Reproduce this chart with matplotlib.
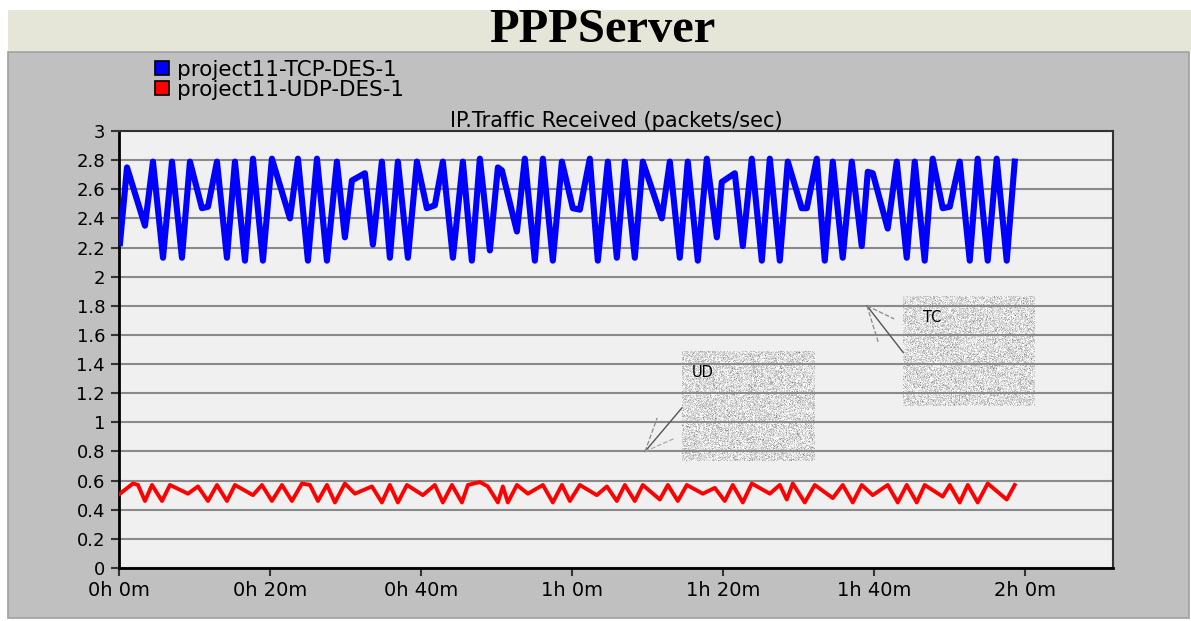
import numpy as np
import matplotlib
matplotlib.use("Agg")
import matplotlib.pyplot as plt
from matplotlib.patches import Rectangle
from matplotlib.lines import Line2D

# ---------------- data (time in minutes) ----------------
tcp_time = [0.13, 1.06, 3.44, 4.50, 5.83, 7.02, 8.34, 9.40, 10.99, 11.79, 12.98, 14.30, 15.36,
            16.69, 17.75, 19.07, 20.26, 22.65, 23.71, 25.03, 26.23, 27.55, 28.87, 29.93, 30.86,
            32.58, 33.64, 34.83, 35.89, 36.95, 38.28, 39.47, 40.79, 41.85, 42.91, 44.24, 45.56,
            46.75, 47.81, 49.14, 50.20, 50.73, 52.72, 53.77, 55.10, 56.16, 57.48, 58.68, 60.13,
            61.06, 62.38, 63.44, 64.77, 65.96, 67.02, 68.34, 69.40, 71.92, 72.98, 74.30, 75.36,
            76.69, 77.88, 79.21, 79.87, 81.59, 82.65, 83.84, 85.17, 86.23, 87.55, 88.61, 90.46,
            91.13, 92.45, 93.51, 94.57, 95.89, 97.09, 98.41, 99.21, 99.87, 101.85, 103.05, 104.37,
            105.43, 106.75, 107.81, 109.14, 110.07, 111.39, 112.72, 113.77, 115.10, 116.29,
            117.62, 118.68]
tcp_vals = [2.23, 2.75, 2.35, 2.79, 2.13, 2.79, 2.13, 2.79, 2.47, 2.48, 2.79, 2.13, 2.79,
            2.11, 2.81, 2.11, 2.81, 2.40, 2.81, 2.11, 2.81, 2.11, 2.79, 2.27, 2.66,
            2.71, 2.22, 2.79, 2.13, 2.79, 2.13, 2.79, 2.47, 2.49, 2.79, 2.13, 2.79,
            2.11, 2.81, 2.18, 2.75, 2.73, 2.31, 2.81, 2.11, 2.81, 2.11, 2.79, 2.47,
            2.46, 2.81, 2.11, 2.79, 2.13, 2.79, 2.13, 2.79, 2.40, 2.79, 2.13, 2.79,
            2.11, 2.81, 2.27, 2.65, 2.71, 2.21, 2.81, 2.11, 2.81, 2.11, 2.79, 2.47,
            2.47, 2.81, 2.11, 2.79, 2.13, 2.79, 2.21, 2.72, 2.71, 2.33, 2.79, 2.13,
            2.79, 2.11, 2.81, 2.47, 2.48, 2.79, 2.11, 2.81, 2.11, 2.81,
            2.11, 2.79]

udp_time = [0.13, 1.85, 2.52, 3.44, 4.37, 5.70, 6.75, 9.14, 10.46, 11.79, 12.98, 14.30, 15.36,
            17.75, 18.94, 20.26, 21.59, 22.91, 24.24, 25.30, 26.36, 27.55, 28.61, 29.93, 31.26,
            33.51, 34.83, 35.89, 36.95, 38.15, 40.26, 41.85, 42.91, 44.11, 45.43, 46.23, 47.81,
            48.87, 50.20, 50.86, 51.52, 52.72, 54.17, 56.16, 57.48, 58.68, 59.74, 61.06, 63.31,
            64.64, 65.96, 67.02, 68.34, 69.40, 71.66, 72.72, 74.04, 75.23, 77.35, 78.94, 80.26,
            81.32, 82.65, 83.84, 86.23, 87.55, 88.48, 89.27, 90.86, 92.19, 94.57, 95.89, 97.22,
            98.41, 99.87, 101.85, 103.18, 104.37, 105.70, 106.75, 109.14, 110.07, 111.39, 112.45,
            113.77, 115.10, 117.62, 118.68]
udp_vals = [0.51, 0.58, 0.57, 0.46, 0.57, 0.46, 0.57, 0.51, 0.56, 0.46, 0.57, 0.46, 0.57,
            0.50, 0.57, 0.46, 0.57, 0.46, 0.58, 0.57, 0.46, 0.57, 0.45, 0.58, 0.51,
            0.56, 0.45, 0.57, 0.45, 0.57, 0.50, 0.57, 0.45, 0.57, 0.45, 0.57, 0.59,
            0.56, 0.45, 0.56, 0.45, 0.57, 0.51, 0.57, 0.45, 0.57, 0.46, 0.57, 0.50,
            0.56, 0.46, 0.57, 0.46, 0.57, 0.47, 0.57, 0.46, 0.57, 0.51, 0.55, 0.46,
            0.57, 0.45, 0.58, 0.51, 0.57, 0.47, 0.58, 0.45, 0.57, 0.48, 0.57, 0.45,
            0.57, 0.50, 0.57, 0.45, 0.57, 0.45, 0.57, 0.49, 0.57, 0.45, 0.57,
            0.45, 0.58, 0.47, 0.57]

series_labels = ["project11-TCP-DES-1", "project11-UDP-DES-1"]
title_text = "PPPServer"
subtitle_text = "IP.Traffic Received (packets/sec)"
x_tick_minutes = [0, 20, 40, 60, 80, 100, 120]
x_tick_labels = ["0h 0m", "0h 20m", "0h 40m", "1h 0m", "1h 20m", "1h 40m", "2h 0m"]
y_ticks = [0, 0.2, 0.4, 0.6, 0.8, 1, 1.2, 1.4, 1.6, 1.8, 2, 2.2, 2.4, 2.6, 2.8, 3]

# ---------------- figure ----------------
W, H = 1191, 621
fig = plt.figure(figsize=(W / 100, H / 100), dpi=100)
fig.patch.set_facecolor("white")

def fx(px):
    return px / W

def fy(py):
    return 1 - py / H

# title band and gray panel
fig.patches.append(Rectangle((fx(8), fy(51)), fx(1183), 41 / H, transform=fig.transFigure,
                             facecolor="#e6e6d8", edgecolor="none", zorder=-2))
fig.patches.append(Rectangle((fx(8), fy(618)), fx(1181), 566 / H, transform=fig.transFigure,
                             facecolor="#c0c0c0", edgecolor="#a0a0a0", linewidth=1.2, zorder=-2))
fig.text(0.506, fy(30), title_text, ha="center", va="center", fontsize=35,
         fontweight="bold", family="Liberation Serif", color="black")

ax = fig.add_axes([fx(119), fy(568), fx(1113 - 119), (568 - 131) / H])
ax.set_zorder(1)
ax.set_facecolor("#f0f0f0")

ax.plot(tcp_time, tcp_vals, color="#0000ff", linewidth=4.4, solid_joinstyle="round", zorder=3)
ax.plot(udp_time, udp_vals, color="#ff0000", linewidth=2.8, solid_joinstyle="round", zorder=3)

ax.set_xlim(0, 131.7)
ax.set_ylim(0, 3)
ax.set_xticks(x_tick_minutes)
ax.set_xticklabels(x_tick_labels)
ax.set_yticks(y_ticks)
ax.set_yticklabels(["%g" % v for v in y_ticks])
ax.yaxis.grid(True, color="#8a8a8a", linewidth=1.5)
ax.xaxis.grid(False)
ax.tick_params(axis="both", direction="out", length=6, width=1.5, color="#333333",
               labelcolor="black")
ax.tick_params(axis="x", pad=3, labelsize=14)
ax.tick_params(axis="y", pad=4, labelsize=13)
for s in ["left", "bottom"]:
    ax.spines[s].set_color("black")
    ax.spines[s].set_linewidth(2)
for s in ["top", "right"]:
    ax.spines[s].set_color("#333333")
    ax.spines[s].set_linewidth(1.5)

ax.set_title(subtitle_text, fontsize=15, pad=3, color="black")

# annotation boxes (speckled gray)
rng = np.random.default_rng(7)
tex1 = np.clip(0.86 + 0.11 * rng.standard_normal((110, 133)), 0, 1)
tex2 = np.clip(0.86 + 0.11 * rng.standard_normal((110, 132)), 0, 1)
ax.imshow(tex1, cmap="gray", vmin=0, vmax=1, extent=(74.57, 92.19, 0.735, 1.49),
          aspect="auto", interpolation="nearest", zorder=0.5)
ax.imshow(tex2, cmap="gray", vmin=0, vmax=1, extent=(103.84, 121.32, 1.112, 1.867),
          aspect="auto", interpolation="nearest", zorder=0.5)
ax.text(77.4, 1.34, "UD", fontsize=10.5, ha="center", va="center", zorder=4)
ax.text(107.7, 1.72, "TC", fontsize=10.5, ha="center", va="center", zorder=4)

# pointer rays
ax.plot([74.6, 69.7], [1.10, 0.80], color="#555555", linewidth=1.0, zorder=2)
ax.plot([69.7, 71.3], [0.80, 1.03], color="#888888", linewidth=0.9, linestyle="--", zorder=2)
ax.plot([69.7, 73.6], [0.80, 0.89], color="#aaaaaa", linewidth=0.9, linestyle="--", zorder=2)
ax.plot([103.9, 99.1], [1.48, 1.80], color="#555555", linewidth=1.0, zorder=2)
ax.plot([99.1, 102.7], [1.80, 1.71], color="#888888", linewidth=0.9, linestyle="--", zorder=2)
ax.plot([99.1, 100.6], [1.80, 1.55], color="#888888", linewidth=0.9, linestyle="--", zorder=2)
ax.set_xlim(0, 131.7)
ax.set_ylim(0, 3)

# legend
handles = [Line2D([], [], marker="s", linestyle="none", markersize=10,
                  markerfacecolor="#0000ff", markeredgecolor="black", markeredgewidth=1.2),
           Line2D([], [], marker="s", linestyle="none", markersize=10,
                  markerfacecolor="#ff0000", markeredgecolor="black", markeredgewidth=1.2)]
fig.legend(handles, series_labels, loc="upper left", bbox_to_anchor=(fx(153), fy(60)),
           frameon=False, fontsize=15.5, handlelength=0.8, handletextpad=0.3,
           labelspacing=0.0, borderpad=0, borderaxespad=0)

fig.savefig("out.png", dpi=100)
